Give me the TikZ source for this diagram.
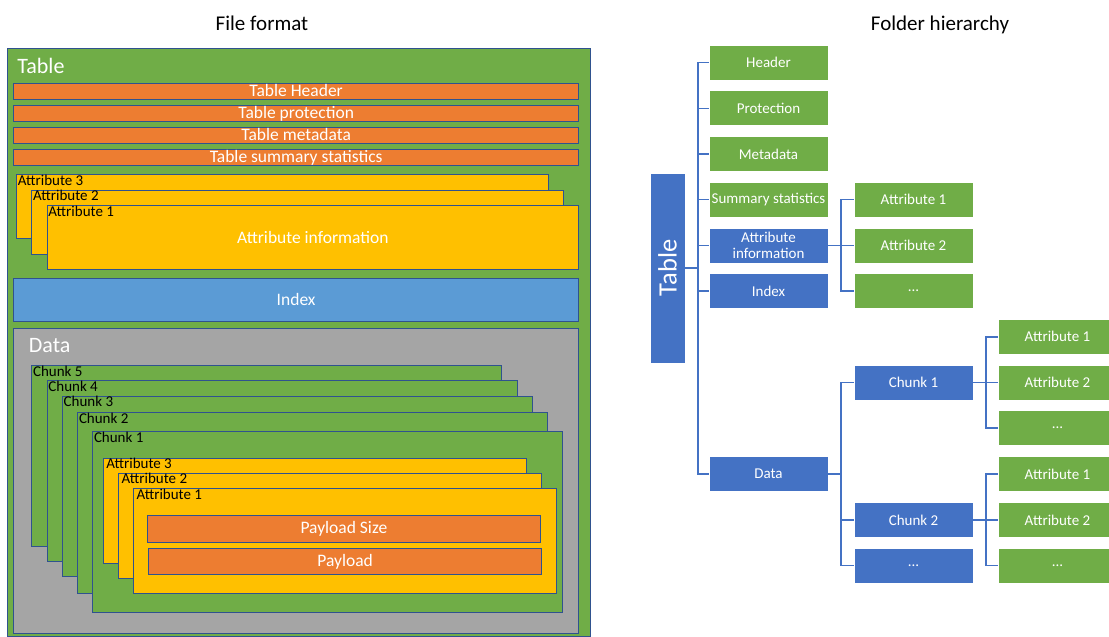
\documentclass[tikz,border=0pt]{standalone}
\usepackage{fontspec}
\setmainfont{Carlito}
\usetikzlibrary{positioning}
\definecolor{tblgreen}{HTML}{70AD47}
\definecolor{hdrorange}{HTML}{ED7D31}
\definecolor{attryellow}{HTML}{FFC000}
\definecolor{idxblue}{HTML}{5B9BD5}
\definecolor{datagray}{HTML}{A5A5A5}
\definecolor{nodeblue}{HTML}{4472C4}
\definecolor{edgeblue}{HTML}{2F528F}
\newcommand\fsz[1]{\fontsize{#1}{#1}\selectfont}

\begin{document}
\begin{tikzpicture}[x=1pt, y=-1pt,
    box/.style = {draw = edgeblue, line width = 0.8pt, anchor = north west, inner sep = 0pt},
    bar/.style = {box, fill = hdrorange, text = white, font = \fsz{17.5}, minimum width = 564.7pt, text height = 13.5pt, text depth = 2.5pt},
    attr/.style = {box, fill = attryellow, minimum width = 531.4pt, minimum height = 64pt},
    chunk/.style = {box, fill = tblgreen, minimum width = 469.8pt, minimum height = 180.5pt},
    iattr/.style = {box, fill = attryellow, minimum width = 423.4pt, minimum height = 105pt},
    tag/.style = {anchor = north west, inner xsep = 1.5pt, inner ysep = 0.5pt, text = black, font = \fsz{15}},
    rbox/.style = {draw = white, line width = 0.6pt, text = white, font = {\fontsize{15}{16}\selectfont}, minimum width = 119pt, minimum height = 35pt, inner sep = 0pt, align = center},
    gbox/.style = {rbox, fill = tblgreen},
    bbox/.style = {rbox, fill = nodeblue},
    conn/.style = {draw = nodeblue, line width = 1.4pt},
    elbow/.style = {to path = {|- (\tikztotarget)}}]
  \useasboundingbox (0,0) rectangle (1109,637);
  \clip (0,0) rectangle (1109,637);

  \node[font = \fsz{21}, anchor = base] (fmt)  at (262,30.7) {File format};
  \node[font = \fsz{21}, anchor = base] (hier) at (940,30.7) {Folder hierarchy};

  % file format
  \node[box, fill = tblgreen, minimum width = 582.7pt, minimum height = 588pt] (tab) at (6.9,48) {};
  \node[anchor = base west, inner sep = 0pt, text = white, font = \fsz{22}] (tabl) at (17.2,73) {Table};
  \node[bar] (hdr)  at (13.4,83)  {Table Header};
  \node[bar] (prot) at (13.4,105) {Table protection};
  \node[bar] (meta) at (13.4,127) {Table metadata};
  \node[bar] (stat) at (13.4,149) {Table summary statistics};
  \node[attr, label = {[tag]north west:Attribute 3}] (at3) at (16.1,174) {};
  \node[attr, label = {[tag]north west:Attribute 2}] (at2) at (31.4,189.5) {};
  \node[attr, text = white, font = \fsz{17.5}, label = {[tag]north west:Attribute 1}] (at1) at (46.7,205) {Attribute information};
  \node[box, fill = idxblue, text = white, font = \fsz{17.5}, minimum width = 564.7pt, minimum height = 43.5pt] (idx) at (13.4,277.7) {Index};
  \node[box, fill = datagray, minimum width = 564.7pt, minimum height = 305pt] (dat) at (13.4,327.7) {};
  \node[anchor = base west, inner sep = 0pt, text = white, font = \fsz{22}] (datl) at (28.7,352.7) {Data};
  \node[chunk, label = {[tag]north west:Chunk 5}] (ck5) at (31.4,365.3) {};
  \node[chunk, label = {[tag]north west:Chunk 4}] (ck4) at (46.7,380.3) {};
  \node[chunk, label = {[tag]north west:Chunk 3}] (ck3) at (62,395.7) {};
  \node[chunk, label = {[tag]north west:Chunk 2}] (ck2) at (77.3,412) {};
  \node[chunk, label = {[tag]north west:Chunk 1}] (ck1) at (92.3,431) {};
  \node[iattr, label = {[tag, inner xsep = 3.5pt]north west:Attribute 3}] (ia3) at (102.6,457.7) {};
  \node[iattr, label = {[tag, inner xsep = 3.5pt]north west:Attribute 2}] (ia2) at (117.9,472.7) {};
  \node[iattr, label = {[tag, inner xsep = 3.5pt]north west:Attribute 1}] (ia1) at (132.8,488.3) {};
  \node[box, fill = hdrorange, text = white, font = \fsz{17.5}, minimum width = 393pt, minimum height = 27.5pt] (psz) at (147,514.7) {Payload Size};
  \node[box, fill = hdrorange, text = white, font = \fsz{17.5}, minimum width = 393pt, minimum height = 25.7pt] (pay) at (148.2,548.3) {Payload};

  % folder hierarchy
  \node[bbox, rotate = 90, minimum width = 190pt, font = \fsz{26.5}] (ftbl) at (667.5,268) {Table};
  \node[gbox] (fhdr)  at (768.5,62.5)  {Header};
  \node[gbox] (fprot) at (768.5,108.2) {Protection};
  \node[gbox] (fmeta) at (768.5,153.9) {Metadata};
  \node[gbox] (fstat) at (768.5,199.6) {Summary statistics};
  \node[bbox] (fattr) at (768.5,245.3) {Attribute\\information};
  \node[bbox] (fidx)  at (768.5,291)   {Index};
  \node[bbox] (fdat)  at (768.5,474)   {Data};
  \node[gbox] (fa1) at (913.5,199.6) {Attribute 1};
  \node[gbox] (fa2) at (913.5,245.3) {Attribute 2};
  \node[gbox] (fax) at (913.5,291)   {...};
  \node[bbox] (fch1) at (913.5,382.3) {Chunk 1};
  \node[bbox] (fch2) at (913.5,520)   {Chunk 2};
  \node[bbox] (fchx) at (913.5,565.7) {...};
  \node[gbox] (c1a1) at (1057.5,336.8) {Attribute 1};
  \node[gbox] (c1a2) at (1057.5,382.3) {Attribute 2};
  \node[gbox] (c1ax) at (1057.5,427.8) {...};
  \node[gbox] (c2a1) at (1057.5,474)   {Attribute 1};
  \node[gbox] (c2a2) at (1057.5,520)   {Attribute 2};
  \node[gbox] (c2ax) at (1057.5,565.7) {...};

  \coordinate (tk)  at ([xshift = 12.5pt]ftbl.south);
  \coordinate (ak)  at ([xshift = 12.5pt]fattr.east);
  \coordinate (dk)  at ([xshift = 12.5pt]fdat.east);
  \coordinate (k1)  at ([xshift = 12.5pt]fch1.east);
  \coordinate (k2)  at ([xshift = 12.5pt]fch2.east);
  \path[conn] (ftbl.south) edge (tk)
              (tk) edge[elbow] (fhdr.west)  (tk) edge[elbow] (fprot.west)
              (tk) edge[elbow] (fmeta.west) (tk) edge[elbow] (fstat.west)
              (tk) edge[elbow] (fattr.west) (tk) edge[elbow] (fidx.west)
              (tk) edge[elbow] (fdat.west);
  \path[conn] (fattr.east) edge (ak)
              (ak) edge[elbow] (fa1.west) (ak) edge[elbow] (fa2.west) (ak) edge[elbow] (fax.west);
  \path[conn] (fdat.east) edge (dk)
              (dk) edge[elbow] (fch1.west) (dk) edge[elbow] (fch2.west) (dk) edge[elbow] (fchx.west);
  \path[conn] (fch1.east) edge (k1)
              (k1) edge[elbow] (c1a1.west) (k1) edge[elbow] (c1a2.west) (k1) edge[elbow] (c1ax.west);
  \path[conn] (fch2.east) edge (k2)
              (k2) edge[elbow] (c2a1.west) (k2) edge[elbow] (c2a2.west) (k2) edge[elbow] (c2ax.west);
\end{tikzpicture}
\end{document}
